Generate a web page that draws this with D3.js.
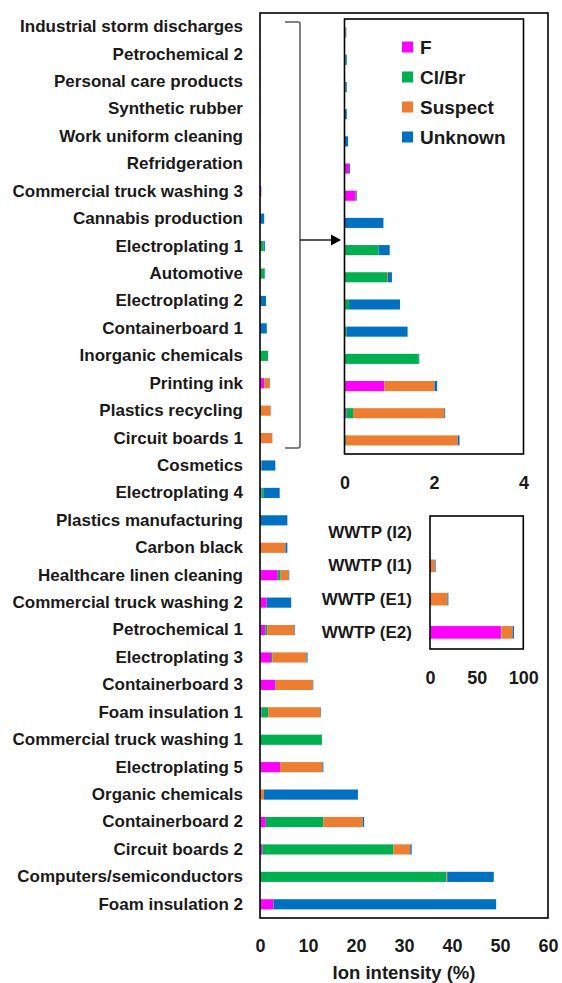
<!DOCTYPE html>
<html>
<head>
<meta charset="utf-8">
<script src="https://cdn.jsdelivr.net/npm/d3@7"></script>
<style>
  html, body { margin: 0; padding: 0; background: #fff; }
  svg text { font-family: "Liberation Sans", Arial, sans-serif; font-weight: bold; fill: #1a1a1a; }
</style>
</head>
<body>
<svg id="chart" width="562" height="983"></svg>
<script>
// Sources, listed top to bottom
const categories = [
  "Industrial storm discharges", "Petrochemical 2", "Personal care products",
  "Synthetic rubber", "Work uniform cleaning", "Refridgeration",
  "Commercial truck washing 3", "Cannabis production", "Electroplating 1",
  "Automotive", "Electroplating 2", "Containerboard 1", "Inorganic chemicals",
  "Printing ink", "Plastics recycling", "Circuit boards 1", "Cosmetics",
  "Electroplating 4", "Plastics manufacturing", "Carbon black",
  "Healthcare linen cleaning", "Commercial truck washing 2", "Petrochemical 1",
  "Electroplating 3", "Containerboard 3", "Foam insulation 1",
  "Commercial truck washing 1", "Electroplating 5", "Organic chemicals",
  "Containerboard 2", "Circuit boards 2", "Computers/semiconductors",
  "Foam insulation 2"
];
// Ion intensity (%) per class
const fValues       = [0, 0, 0, 0, 0, 0.10, 0.25, 0, 0, 0, 0, 0, 0, 0.89, 0.04, 0, 0, 0.3, 0, 0, 3.7, 1.4, 1.1, 2.3, 3.2, 0.3, 0, 4.2, 0, 1.2, 0.5, 0, 2.8];
const clBrValues    = [0, 0.03, 0.03, 0.01, 0.01, 0, 0.02, 0.01, 0.76, 0.95, 0.10, 0.05, 1.66, 0, 0.15, 0.03, 0, 0.5, 0, 0, 0.6, 0, 0.4, 0.3, 0.1, 1.4, 12.9, 0, 0, 12.0, 27.3, 38.8, 0];
const suspectValues = [0.03, 0, 0, 0, 0, 0, 0, 0, 0, 0.02, 0, 0, 0, 1.12, 2.04, 2.50, 0.3, 0, 0, 5.3, 1.7, 0, 5.7, 7.1, 7.7, 10.9, 0, 8.8, 0.8, 8.2, 3.5, 0.2, 0];
const unknownValues = [0.01, 0.02, 0.02, 0.04, 0.07, 0.02, 0.01, 0.86, 0.25, 0.09, 1.14, 1.36, 0.01, 0.06, 0.02, 0.04, 2.9, 3.3, 5.7, 0.4, 0.1, 5.1, 0.1, 0.2, 0.1, 0.1, 0, 0.2, 19.6, 0.3, 0.3, 9.7, 46.4];

// Wastewater treatment plants
const wwtpCategories = ["WWTP (I2)", "WWTP (I1)", "WWTP (E1)", "WWTP (E2)"];
const wwtpF       = [0, 0, 0, 76];
const wwtpClBr    = [0, 0, 0.3, 0.5];
const wwtpSuspect = [0, 5.2, 18.4, 12];
const wwtpUnknown = [0, 0.8, 1.0, 1.5];

const mainTicks = [0, 10, 20, 30, 40, 50, 60];
const zoomTicks = [0, 2, 4];
const wwtpTicks = [0, 50, 100];

const keys = ["F", "Cl/Br", "Suspect", "Unknown"];
const colors = { "F": "#ff00ff", "Cl/Br": "#00b050", "Suspect": "#ed7d31", "Unknown": "#0070c0" };

const rows = categories.map((c, i) => ({
  name: c, "F": fValues[i], "Cl/Br": clBrValues[i], "Suspect": suspectValues[i], "Unknown": unknownValues[i]
}));
const wwtpRows = wwtpCategories.map((c, i) => ({
  name: c, "F": wwtpF[i], "Cl/Br": wwtpClBr[i], "Suspect": wwtpSuspect[i], "Unknown": wwtpUnknown[i]
}));

const svg = d3.select("#chart");
const stack = d3.stack().keys(keys);

// Draws a framed horizontal stacked bar panel
function panel(opts) {
  const { data, cats, xDomain, xRange, yRange, ticks, pad, labelPad, tickPad, fontSize, showLabels } = opts;
  const x = d3.scaleLinear().domain(xDomain).range(xRange);
  const y = d3.scaleBand().domain(cats).range(yRange).paddingInner(pad).paddingOuter(pad / 2);
  const g = svg.append("g");

  g.append("rect")
    .attr("x", xRange[0]).attr("y", yRange[0])
    .attr("width", xRange[1] - xRange[0]).attr("height", yRange[1] - yRange[0])
    .attr("fill", "#fff");

  const series = stack(data);
  g.selectAll("g.series").data(series).join("g")
    .attr("class", "series")
    .attr("fill", d => colors[d.key])
    .selectAll("rect").data(d => d).join("rect")
      .attr("x", d => x(d[0]))
      .attr("y", d => y(d.data.name))
      .attr("width", d => Math.max(0, x(d[1]) - x(d[0])))
      .attr("height", y.bandwidth());

  g.append("rect")
    .attr("x", xRange[0]).attr("y", yRange[0])
    .attr("width", xRange[1] - xRange[0]).attr("height", yRange[1] - yRange[0])
    .attr("fill", "none").attr("stroke", "#000").attr("stroke-width", 1.6);

  const xAxis = g.append("g")
    .attr("transform", `translate(0,${yRange[1]})`)
    .call(d3.axisBottom(x).tickValues(ticks).tickSize(0).tickPadding(tickPad).tickFormat(d3.format("d")));
  xAxis.select(".domain").remove();
  xAxis.selectAll("text").style("font-size", "18px").attr("fill", "#1a1a1a");

  if (showLabels) {
    const yAxis = g.append("g")
      .attr("transform", `translate(${xRange[0]},0)`)
      .call(d3.axisLeft(y).tickSize(0).tickPadding(labelPad));
    yAxis.select(".domain").remove();
    yAxis.selectAll("text").style("font-size", fontSize + "px").attr("fill", "#1a1a1a");
  }
  return { x, y, g };
}

// Main panel: all sources
panel({
  data: rows, cats: categories, xDomain: [0, 60], xRange: [260, 548], yRange: [13, 918],
  ticks: mainTicks, pad: 0.63, labelPad: 17, tickPad: 21, fontSize: 17, showLabels: true
});

svg.append("text")
  .attr("x", 404).attr("y", 979)
  .attr("text-anchor", "middle")
  .style("font-size", "18.5px")
  .text("Ion intensity (%)");

// Bracket grouping the low-intensity sources and arrow into the zoomed panel
svg.append("path")
  .attr("d", "M285,22 L298,22 Q300,22 300,24 L300,446 Q300,448 298,448 L285,448")
  .attr("fill", "none").attr("stroke", "#595959").attr("stroke-width", 1.5);
svg.append("line")
  .attr("x1", 300).attr("y1", 240).attr("x2", 332).attr("y2", 240)
  .attr("stroke", "#000").attr("stroke-width", 1.3);
svg.append("path")
  .attr("d", "M331,234.5 L341,240 L331,245.5 Z")
  .attr("fill", "#000");

// Zoomed panel for the first sixteen sources
const zoom = panel({
  data: rows.slice(0, 16), cats: categories.slice(0, 16), xDomain: [0, 4], xRange: [344.5, 523.5], yRange: [19, 454],
  ticks: zoomTicks, pad: 0.63, labelPad: 0, tickPad: 22, fontSize: 17, showLabels: false
});

// Legend
const legend = svg.append("g");
keys.forEach((k, i) => {
  const cy = 47 + i * 30;
  legend.append("rect").attr("x", 402).attr("y", cy - 5.5).attr("width", 11).attr("height", 11).attr("fill", colors[k]);
  legend.append("text").attr("x", 420).attr("y", cy).attr("dy", "0.36em").style("font-size", "19px").text(k);
});

// Wastewater treatment plant panel
panel({
  data: wwtpRows, cats: wwtpCategories, xDomain: [0, 100], xRange: [430, 523.3], yRange: [516, 649],
  ticks: wwtpTicks, pad: 0.62, labelPad: 18, tickPad: 22, fontSize: 17, showLabels: true
});
</script>
</body>
</html>
